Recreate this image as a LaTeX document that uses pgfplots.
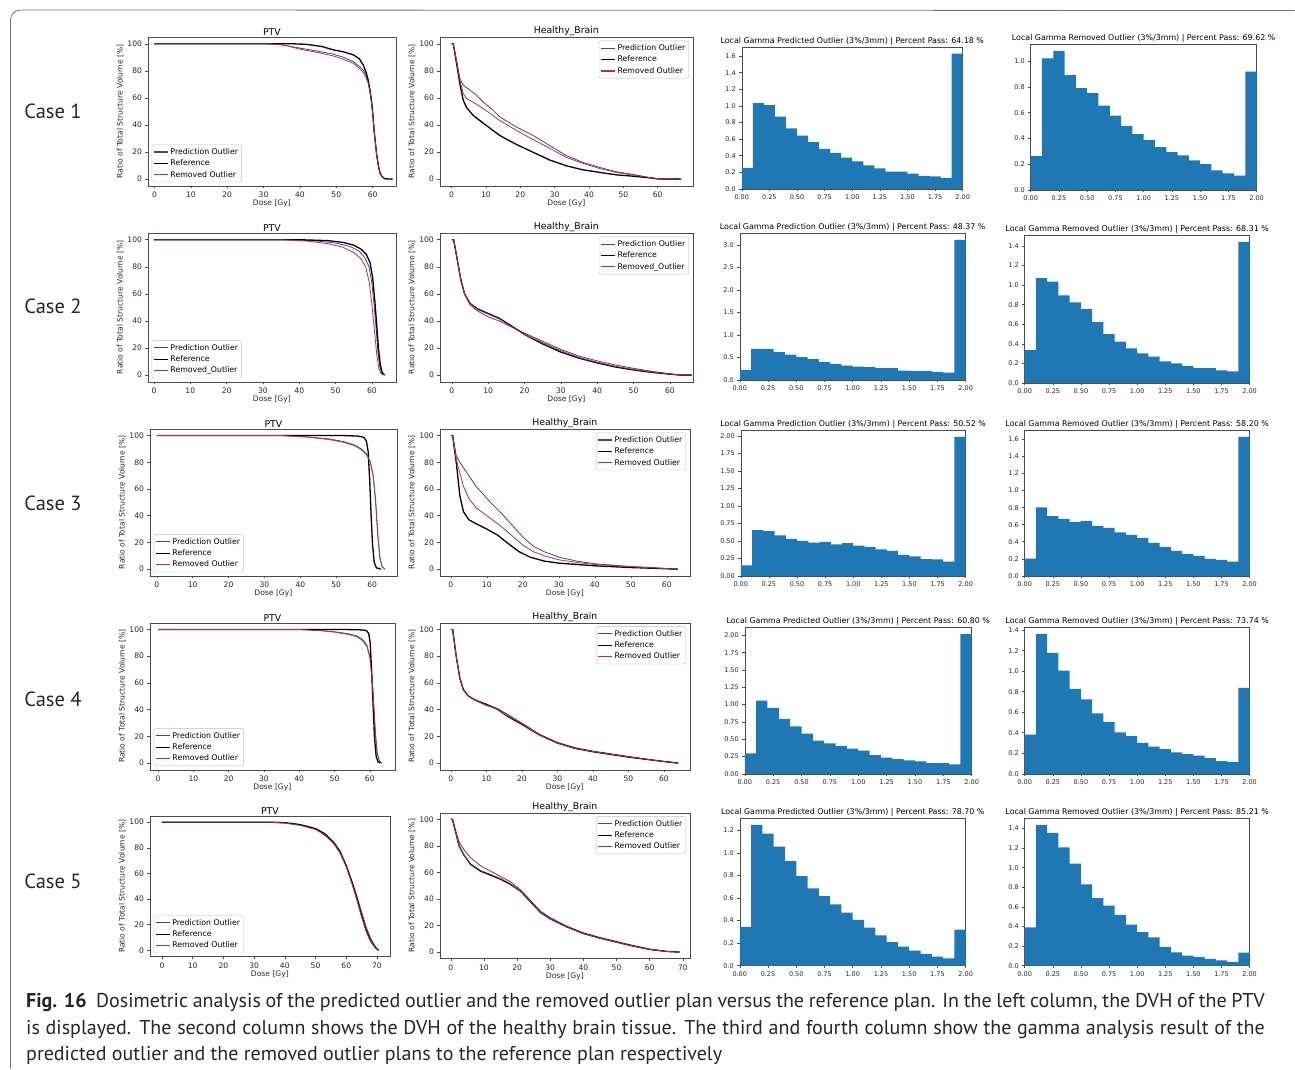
\documentclass[border=0pt]{standalone}
\usepackage{fontspec}
\setmainfont{DejaVu Sans}
\newfontfamily\capfont{PT Sans}
\usepackage{pgfplots}
\pgfplotsset{compat=1.18}
\definecolor{c0}{HTML}{1F77B4}
\definecolor{predb}{HTML}{3C3CC0}
\definecolor{remr}{HTML}{C03030}
\newcommand\fs[1]{\fontsize{#1}{#1}\selectfont}
\pgfplotsset{legend image code/.code={\draw[#1, line width=1.1pt] (0pt,0pt) -- (14pt,0pt);}}
\pgfplotsset{
 mpl/.style={scale only axis, anchor=north west, axis line style={black!70, line width=0.5pt}, tick style={black!70, line width=0.5pt}, major tick length=2.5pt, tick align=outside, xtick pos=bottom, ytick pos=left, /pgf/number format/assume math mode=true, ticklabel style={font=\fs{7.6}, text=black!85}, title style={font=\fs{9.3}, yshift=-8pt}, label style={font=\fs{7.6}, text=black!85}},
 dvh/.style={mpl, ymin=-5, ymax=105, ytick={0,20,40,60,80,100}, xtick={0,10,20,30,40,50,60}, xlabel={Dose [Gy]}, ylabel={Ratio of Total Structure Volume [\%]}, xlabel style={yshift=4.5pt}, ylabel style={yshift=-3pt}, legend cell align=left, legend style={font=\fs{7.8}, draw=black!25, rounded corners=2pt, inner sep=1.5pt, row sep=0pt}},
 ptv/.style={dvh, title={PTV}, legend style={at={(0.015,0.025)}, anchor=south west}},
 brain/.style={dvh, title={Healthy\_Brain}, legend style={at={(0.985,0.975)}, anchor=north east}},
 hist/.style={mpl, xmin=0, xmax=2, ymin=0, xtick={0,0.25,0.5,0.75,1,1.25,1.5,1.75,2}, xticklabel style={/pgf/number format/.cd, fixed, fixed zerofill, precision=2}, yticklabel style={/pgf/number format/.cd, fixed, fixed zerofill, precision=1}, ticklabel style={font=\fs{6.5}}, title style={font=\fs{7.9}, yshift=0pt}},
 pb/.style={color=predb, line width=0.8pt},
 rf/.style={black, line width=1.3pt},
 rr/.style={color=remr, line width=0.8pt},
 hb/.style={ybar interval, fill=c0, draw=none},
}
\begin{document}
\begin{tikzpicture}[x=1pt,y=1pt]
\path (0,0) rectangle (1295,-1069);
\draw[black!55, line width=0.8pt] (10.5,-1069) -- (10.5,-20) arc[start angle=180,end angle=90,radius=10] -- (1295,-10.5);

% ---------------- Row 1
\begin{axis}[ptv, at={(148pt,-37pt)}, width=248pt, height=149pt, xmin=-1.8, xmax=66.4]
\addplot[pb] coordinates {(0,100) (30,100) (35,99.2) (40,96.8) (45,94.5) (49.2,92.3) (52,90) (54.7,86.8) (56.5,83) (57.4,80.6) (58.2,77) (58.8,72) (59.3,66) (59.7,57) (60.1,47) (60.4,36) (60.8,26) (61.1,18) (61.6,9.5) (62,4.8) (62.5,2) (63,0.8) (63.4,0)};
\addplot[rf] coordinates {(0,100) (38,100) (42,99.5) (46,98) (49.2,95.5) (52,94) (54.7,91.8) (56.3,89) (57.4,84.4) (58.2,79) (58.8,73) (59.3,65) (59.7,58) (60.1,47) (60.4,36) (60.8,26) (61.1,18.6) (61.6,10) (62,5) (62.5,2.2) (62.9,1.2) (63.4,0.3) (65.5,0)};
\addplot[rr] coordinates {(0,100) (32,100) (36,98.8) (40,96) (45,93.5) (49.2,91) (52,88.5) (54.7,85.6) (56.5,81.5) (57.4,78.7) (58.2,75) (58.8,70.7) (59.3,64) (59.7,56) (60.1,46.5) (60.4,36) (60.8,26) (61.1,18) (61.6,9.5) (62,4.8) (62.5,2) (63,0.8) (63.4,0)};
\legend{Prediction Outlier, Reference, Removed Outlier}
\end{axis}
\begin{axis}[brain, at={(440pt,-37pt)}, width=253pt, height=149pt, xmin=-3.4, xmax=70.2]
\addplot[pb] coordinates {(0,100) (0.5,100) (1.45,88) (2.4,74.4) (3.4,69.5) (5.3,65.8) (7.3,62) (9.2,57) (12.1,50.9) (14,46) (18.9,38.5) (23.7,32.3) (28.6,24.8) (33.4,17.4) (38.2,12.4) (43.1,8.7) (47.9,5.5) (52.8,3.5) (57.6,1.2) (60,0.3) (66.8,0)};
\addplot[rf] coordinates {(0,100) (0.5,100) (1.45,85.6) (2.4,70.7) (3.4,58.3) (4.35,52.9) (6.3,47.1) (9.2,41.4) (14,32.3) (18.9,25.6) (23.7,19.9) (28.6,14.1) (33.4,9.9) (38.2,6.9) (43.1,5) (47.9,3.2) (52.8,2.2) (57.6,1) (60,0.2) (66.8,0)};
\addplot[rr] coordinates {(0,100) (0.5,100) (1.45,86.8) (2.4,73.2) (3.4,63.3) (4.35,59.6) (7.3,55.3) (10.2,50.4) (14,43.4) (18.9,36) (23.7,29.3) (28.6,22.8) (33.4,16.1) (38.2,11.7) (43.1,7.9) (47.9,5) (52.8,3) (57.6,1.2) (60,0.3) (66.8,0)};
\legend{Prediction Outlier, Reference, Removed Outlier}
\end{axis}
\begin{axis}[hist, at={(742pt,-47pt)}, width=221pt, height=142pt, ymax=1.709, ytick={0,0.2,0.4,0.6,0.8,1.0,1.2,1.4,1.6}, title={Local Gamma Predicted Outlier (3\%/3mm) | Percent Pass: 64.18 \%}]
\addplot[hb] coordinates {(0,0.253) (0.1,1.034) (0.2,1.010) (0.3,0.870) (0.4,0.730) (0.5,0.642) (0.6,0.565) (0.7,0.481) (0.8,0.433) (0.9,0.377) (1.0,0.333) (1.1,0.285) (1.2,0.249) (1.3,0.208) (1.4,0.208) (1.5,0.184) (1.6,0.156) (1.7,0.152) (1.8,0.132) (1.9,1.628) (2.0,1.628)};
\end{axis}
\begin{axis}[hist, at={(1031pt,-44pt)}, width=226pt, height=146pt, ymax=1.134, ytick={0,0.2,0.4,0.6,0.8,1.0}, title={Local Gamma Removed Outlier (3\%/3mm) | Percent Pass: 69.62 \%}]
\addplot[hb] coordinates {(0,0.263) (0.1,1.023) (0.2,1.080) (0.3,0.892) (0.4,0.791) (0.5,0.753) (0.6,0.655) (0.7,0.577) (0.8,0.497) (0.9,0.433) (1.0,0.389) (1.1,0.332) (1.2,0.294) (1.3,0.268) (1.4,0.229) (1.5,0.201) (1.6,0.152) (1.7,0.129) (1.8,0.111) (1.9,0.920) (2.0,0.920)};
\end{axis}

% ---------------- Row 2
\begin{axis}[ptv, at={(148pt,-233pt)}, width=248pt, height=149pt, xmin=-1.65, xmax=66.6]
\addplot[pb] coordinates {(0,100) (38,100) (45,99) (50,97.5) (54,95) (56.5,91.5) (58,87) (59.2,80) (60,68) (60.6,52) (61.2,33) (61.7,16) (62.2,6) (62.8,1) (63.5,0)};
\addplot[rf] coordinates {(0,100) (40,100) (48,99.3) (52,98) (55,96) (57,93) (58.5,89) (59.5,83) (60.2,72) (60.8,55) (61.3,38) (61.8,20) (62.3,8) (62.8,2) (63.5,0)};
\addplot[rr] coordinates {(0,100) (35,100) (42,99) (48,97) (52,94.5) (55,90.5) (57,86) (58.3,80) (59.3,68) (60,52) (60.7,33) (61.3,16) (61.9,5) (62.5,1) (63.5,0)};
\legend{Prediction Outlier, Reference, Removed\_Outlier}
\end{axis}
\begin{axis}[brain, at={(440pt,-233pt)}, width=253pt, height=149pt, xmin=-3.3, xmax=66.3]
\addplot[pb] coordinates {(0,100) (0.5,100) (1.5,85) (2.5,70) (3.5,60) (5,52) (7,47.5) (10,43) (13,40) (16,36) (20,31) (25,25) (30,19) (35,14) (40,10.5) (45,7.5) (50,5) (55,2.8) (60,1) (63,0) (66,0)};
\addplot[rf] coordinates {(0,100) (0.5,100) (1.5,85) (2.5,70) (3.5,60) (5,53) (7,49) (10,45.5) (13,42) (16,37) (20,30) (25,23) (30,17) (35,12.5) (40,9) (45,6) (50,3.8) (55,2) (60,0.7) (63,0) (66,0)};
\addplot[rr] coordinates {(0,100) (0.5,100) (1.5,85) (2.5,70) (3.5,60) (5,53) (7,48.5) (10,45) (13,41.5) (16,36.5) (20,30) (25,24) (30,18) (35,13) (40,9.5) (45,6.5) (50,4.2) (55,2.3) (60,0.8) (63,0) (66,0)};
\legend{Prediction Outlier, Reference, Removed\_Outlier}
\end{axis}
\begin{axis}[hist, at={(740pt,-233pt)}, width=226pt, height=147pt, ymax=3.267, ytick={0,0.5,1.0,1.5,2.0,2.5,3.0}, title={Local Gamma Prediction Outlier (3\%/3mm) | Percent Pass: 48.37 \%}]
\addplot[hb] coordinates {(0,0.222) (0.1,0.689) (0.2,0.681) (0.3,0.615) (0.4,0.563) (0.5,0.504) (0.6,0.459) (0.7,0.393) (0.8,0.356) (0.9,0.319) (1.0,0.296) (1.1,0.281) (1.2,0.259) (1.3,0.259) (1.4,0.207) (1.5,0.2) (1.6,0.2) (1.7,0.178) (1.8,0.163) (1.9,3.111) (2.0,3.111)};
\end{axis}
\begin{axis}[hist, at={(1025pt,-235pt)}, width=225pt, height=148pt, ymax=1.513, ytick={0,0.2,0.4,0.6,0.8,1.0,1.2,1.4}, title={Local Gamma Removed Outlier (3\%/3mm) | Percent Pass: 68.31 \%}]
\addplot[hb] coordinates {(0,0.336) (0.1,1.071) (0.2,1.036) (0.3,0.896) (0.4,0.824) (0.5,0.755) (0.6,0.621) (0.7,0.498) (0.8,0.422) (0.9,0.353) (1.0,0.302) (1.1,0.268) (1.2,0.220) (1.3,0.199) (1.4,0.175) (1.5,0.151) (1.6,0.151) (1.7,0.127) (1.8,0.117) (1.9,1.441) (2.0,1.441)};
\end{axis}

% ---------------- Row 3
\begin{axis}[ptv, at={(150pt,-429pt)}, width=247pt, height=147pt, xmin=-1.9, xmax=66.9]
\addplot[pb] coordinates {(0,100) (35,100) (42,99) (48,97.5) (52,95.5) (55,93) (57,90) (58.5,86) (59.5,80) (60.3,70) (61,50) (61.6,25) (62.2,8) (62.8,2) (63.5,0)};
\addplot[rf] coordinates {(0,100) (52,100) (56,99.6) (57.7,98.7) (58.4,96) (58.9,88) (59.3,68) (59.7,42) (60.1,19) (60.6,5) (61.2,1) (62.5,0)};
\addplot[rr] coordinates {(0,100) (35,100) (42,98.8) (48,97) (52,95) (55,92.5) (57,89.5) (58.5,85.5) (59.5,80) (60.3,70) (61,50) (61.6,25) (62.2,8) (62.8,2) (63.5,0)};
\legend{Prediction Outlier, Reference, Removed Outlier}
\end{axis}
\begin{axis}[brain, at={(440pt,-429pt)}, width=250pt, height=147pt, xmin=-3.05, xmax=66.4]
\addplot[pb] coordinates {(0,100) (0.5,100) (1.5,85) (2.5,80) (3.5,76) (5,70) (7,62) (9,56) (11,50) (14,42) (17,33) (20,24) (23,17) (26,13) (30,9) (35,6) (40,4) (50,2) (60,0.5) (63,0)};
\addplot[rf] coordinates {(0,100) (0.5,100) (1.5,80) (2.5,55) (3.5,43) (5,37) (7,34) (10,30) (13,25.5) (16,19) (19,13) (22,9) (26,6) (30,4.5) (40,2.5) (50,1.2) (60,0.3) (63,0)};
\addplot[rr] coordinates {(0,100) (0.5,100) (1.5,82) (2.5,72) (3.5,62) (5,53) (7,46) (9,42) (11,38) (14,32) (17,25) (20,18) (23,13) (26,10) (30,7) (35,5) (40,3.5) (50,1.8) (60,0.4) (63,0)};
\legend{Prediction Outlier, Reference, Removed Outlier}
\end{axis}
\begin{axis}[hist, at={(741pt,-430pt)}, width=225pt, height=146pt, ymax=2.09, ytick={0,0.25,0.5,0.75,1,1.25,1.5,1.75,2}, yticklabel style={/pgf/number format/.cd, fixed, fixed zerofill, precision=2}, title={Local Gamma Prediction Outlier (3\%/3mm) | Percent Pass: 50.52 \%}]
\addplot[hb] coordinates {(0,0.148) (0.1,0.654) (0.2,0.640) (0.3,0.578) (0.4,0.530) (0.5,0.501) (0.6,0.477) (0.7,0.487) (0.8,0.449) (0.9,0.468) (1.0,0.434) (1.1,0.415) (1.2,0.377) (1.3,0.358) (1.4,0.301) (1.5,0.277) (1.6,0.239) (1.7,0.234) (1.8,0.205) (1.9,1.990) (2.0,1.990)};
\end{axis}
\begin{axis}[hist, at={(1025pt,-430pt)}, width=225pt, height=146pt, ymax=1.713, ytick={0,0.2,0.4,0.6,0.8,1.0,1.2,1.4,1.6}, title={Local Gamma Removed Outlier (3\%/3mm) | Percent Pass: 58.20 \%}]
\addplot[hb] coordinates {(0,0.203) (0.1,0.804) (0.2,0.702) (0.3,0.667) (0.4,0.632) (0.5,0.644) (0.6,0.585) (0.7,0.562) (0.8,0.511) (0.9,0.480) (1.0,0.445) (1.1,0.386) (1.2,0.340) (1.3,0.293) (1.4,0.258) (1.5,0.234) (1.6,0.199) (1.7,0.187) (1.8,0.168) (1.9,1.631) (2.0,1.631)};
\end{axis}

% ---------------- Row 4
\begin{axis}[ptv, at={(150pt,-623pt)}, width=245pt, height=147pt, xmin=-2.3, xmax=67.1]
\addplot[pb] coordinates {(0,100) (40,100) (46,99.3) (50,98.3) (54,96.8) (56.5,95) (58,92.5) (59.2,88) (60,80) (60.6,65) (61.1,45) (61.6,22) (62.1,7) (62.7,1.5) (63.5,0)};
\addplot[rf] coordinates {(0,100) (52,100) (57,99.8) (59,99.3) (59.7,97) (60.1,90) (60.5,70) (60.9,45) (61.3,20) (61.8,5) (62.3,1) (63,0)};
\addplot[rr] coordinates {(0,100) (40,100) (46,99.1) (50,98) (54,96.3) (56.5,94.3) (58,91.5) (59.2,87) (60,79) (60.6,64) (61.1,44) (61.6,21) (62.1,7) (62.7,1.5) (63.5,0)};
\legend{Prediction Outlier, Reference, Removed Outlier}
\end{axis}
\begin{axis}[brain, at={(440pt,-623pt)}, width=250pt, height=147pt, xmin=-3.1, xmax=67.3]
\addplot[pb] coordinates {(0,100) (0.5,100) (1.5,80) (2.5,64) (3.5,55) (5,50) (7,47) (10,43) (13,41) (16,36.5) (20,30) (25,21.5) (30,15.5) (35,11.5) (40,9) (45,7) (50,5) (55,3) (60,1.3) (63,0.3) (64,0)};
\addplot[rf] coordinates {(0,100) (0.5,100) (1.5,80) (2.5,64) (3.5,55) (5,50) (7,47) (10,44) (13,40.5) (16,35) (20,29) (25,21) (30,15) (35,11) (40,8.5) (45,6.5) (50,4.5) (55,2.8) (60,1.2) (63,0.3) (64,0)};
\addplot[rr] coordinates {(0,100) (0.5,100) (1.5,80) (2.5,64) (3.5,55) (5,50) (7,47) (10,43.5) (13,40.5) (16,35.5) (20,29.5) (25,21) (30,15) (35,11) (40,8.7) (45,6.7) (50,4.7) (55,2.9) (60,1.2) (63,0.3) (64,0)};
\legend{Prediction Outlier, Reference, Removed Outlier}
\end{axis}
\begin{axis}[hist, at={(745pt,-627pt)}, width=227pt, height=147pt, ymax=2.125, ytick={0,0.25,0.5,0.75,1,1.25,1.5,1.75,2}, yticklabel style={/pgf/number format/.cd, fixed, fixed zerofill, precision=2}, title={Local Gamma Predicted Outlier (3\%/3mm) | Percent Pass: 60.80 \%}]
\addplot[hb] coordinates {(0,0.295) (0.1,1.058) (0.2,0.952) (0.3,0.792) (0.4,0.686) (0.5,0.580) (0.6,0.478) (0.7,0.440) (0.8,0.401) (0.9,0.362) (1.0,0.333) (1.1,0.271) (1.2,0.232) (1.3,0.213) (1.4,0.193) (1.5,0.179) (1.6,0.155) (1.7,0.155) (1.8,0.135) (1.9,2.024) (2.0,2.024)};
\end{axis}
\begin{axis}[hist, at={(1025pt,-627pt)}, width=225pt, height=147pt, ymax=1.432, ytick={0,0.2,0.4,0.6,0.8,1.0,1.2,1.4}, title={Local Gamma Removed Outlier (3\%/3mm) | Percent Pass: 73.74 \%}]
\addplot[hb] coordinates {(0,0.381) (0.1,1.364) (0.2,1.179) (0.3,1.006) (0.4,0.827) (0.5,0.726) (0.6,0.589) (0.7,0.505) (0.8,0.404) (0.9,0.368) (1.0,0.300) (1.1,0.264) (1.2,0.241) (1.3,0.208) (1.4,0.192) (1.5,0.176) (1.6,0.153) (1.7,0.124) (1.8,0.117) (1.9,0.837) (2.0,0.837)};
\end{axis}

% ---------------- Row 5
\begin{axis}[ptv, at={(150pt,-816pt)}, width=240pt, height=141pt, xmin=-3.9, xmax=74.2, xtick={0,10,20,30,40,50,60,70}]
\addplot[pb] coordinates {(0,100) (38,100) (43,99) (48,96.5) (51,93.5) (54,88) (56,83) (58,76) (60,66) (62,53) (63.5,42) (65,30) (66.5,18) (68,9) (69.5,3) (70.5,0)};
\addplot[rf] coordinates {(0,100) (35,100) (40,99.5) (45,98) (50,95) (53,91) (56,84) (58,77) (60,66) (62,52) (63.5,40) (65,27) (66.5,15.5) (68,7) (69.5,2) (70.5,0)};
\addplot[rr] coordinates {(0,100) (35,100) (40,99.3) (45,97.5) (50,94.3) (53,90) (56,83) (58,76) (60,65) (62,51) (63.5,39) (65,26) (66.5,14.5) (68,6.5) (69.5,2) (70.5,0)};
\legend{Prediction Outlier, Reference, Removed Outlier}
\end{axis}
\begin{axis}[brain, at={(440pt,-813pt)}, width=250pt, height=146pt, xmin=-3.3, xmax=72.1, xtick={0,10,20,30,40,50,60,70}]
\addplot[pb] coordinates {(0,100) (0.5,100) (1.5,91) (2.5,83) (4,77) (6,71) (9,65) (12,61) (15,57) (18,53) (21,47) (24,39) (27,31) (30,26) (35,19.5) (40,14.5) (45,11) (50,8) (55,5) (60,2.3) (65,0.6) (69,0)};
\addplot[rf] coordinates {(0,100) (0.5,100) (1.5,90) (2.5,80) (4,73) (6,66) (9,61) (12,58) (15,55) (18,51) (21,46) (24,38) (27,30) (30,25) (35,19) (40,14) (45,10.5) (50,7.5) (55,4.5) (60,2) (65,0.5) (69,0)};
\addplot[rr] coordinates {(0,100) (0.5,100) (1.5,90) (2.5,80) (4,73) (6,66.5) (9,61.5) (12,58.5) (15,55.5) (18,51.5) (21,46) (24,38) (27,30) (30,25) (35,19) (40,14) (45,10.5) (50,7.5) (55,4.5) (60,2) (65,0.5) (69,0)};
\legend{Prediction Outlier, Reference, Removed Outlier}
\end{axis}
\begin{axis}[hist, at={(740pt,-818pt)}, width=226pt, height=148pt, ymax=1.31, ytick={0,0.2,0.4,0.6,0.8,1.0,1.2}, title={Local Gamma Predicted Outlier (3\%/3mm) | Percent Pass: 78.70 \%}]
\addplot[hb] coordinates {(0,0.343) (0.1,1.248) (0.2,1.170) (0.3,1.054) (0.4,0.925) (0.5,0.794) (0.6,0.684) (0.7,0.615) (0.8,0.543) (0.9,0.469) (1.0,0.406) (1.1,0.337) (1.2,0.269) (1.3,0.209) (1.4,0.170) (1.5,0.134) (1.6,0.104) (1.7,0.081) (1.8,0.066) (1.9,0.319) (2.0,0.319)};
\end{axis}
\begin{axis}[hist, at={(1025pt,-818pt)}, width=225pt, height=148pt, ymax=1.51, ytick={0,0.2,0.4,0.6,0.8,1.0,1.2,1.4}, title={Local Gamma Removed Outlier (3\%/3mm) | Percent Pass: 85.21 \%}]
\addplot[hb] coordinates {(0,0.391) (0.1,1.438) (0.2,1.356) (0.3,1.208) (0.4,1.043) (0.5,0.830) (0.6,0.690) (0.7,0.614) (0.8,0.518) (0.9,0.419) (1.0,0.343) (1.1,0.288) (1.2,0.192) (1.3,0.137) (1.4,0.103) (1.5,0.089) (1.6,0.069) (1.7,0.055) (1.8,0.038) (1.9,0.134) (2.0,0.134)};
\end{axis}

% ---------------- Case labels and caption
\foreach \y/\t in {111/Case 1, 306/Case 2, 503/Case 3, 700/Case 4, 882/Case 5}
  \node[font=\capfont\fs{20.5}, text=black!85] at (53,-\y) {\t};
\node[anchor=west, font=\capfont\fs{20}, text=black!85, inner sep=0pt] at (26,-1003) {\makebox[1239pt][s]{\textbf{Fig. 16}\ \ Dosimetric analysis of the predicted outlier and the removed outlier plan versus the reference plan. In the left column, the DVH of the PTV}};
\node[anchor=west, font=\capfont\fs{20}, text=black!85, inner sep=0pt] at (26,-1030) {\makebox[1239pt][s]{is displayed. The second column shows the DVH of the healthy brain tissue. The third and fourth column show the gamma analysis result of the}};
\node[anchor=west, font=\capfont\fs{20}, text=black!85, inner sep=0pt] at (26,-1056) {predicted outlier and the removed outlier plans to the reference plan respectively};
\end{tikzpicture}
\end{document}
